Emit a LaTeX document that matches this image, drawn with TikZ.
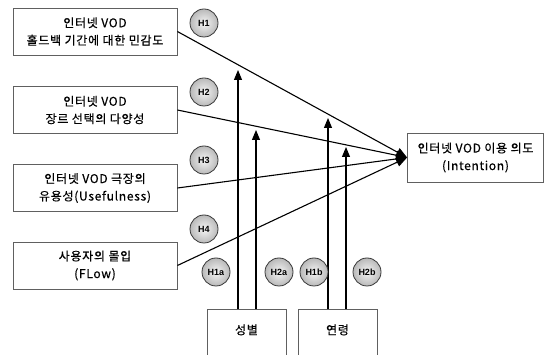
\documentclass[tikz,border=0pt]{standalone}
\usepackage{fontspec}
\setmainfont{Noto Sans CJK KR}[LetterSpace=6, FakeBold=0.5]
\newfontfamily\hfont{Liberation Sans}
\usetikzlibrary{arrows.meta,shadings}
\begin{document}
\begin{tikzpicture}[x=1pt,y=-1pt,
  srcbox/.style={draw=gray!75!black, line width=0.8pt, fill=white, minimum width=164pt, minimum height=47pt, align=center, font=\fontsize{12}{17.5}\selectfont, inner sep=2pt},
  hball/.style={circle, draw=gray!45!black, line width=0.8pt, shading=radial, inner color=gray!8, outer color=gray!55, minimum size=28pt, inner sep=0pt, font=\hfont\bfseries\fontsize{9}{9}\selectfont},
  link/.style={line width=1.1pt, -{Triangle[length=11pt,width=9pt]}},
  vlink/.style={line width=1.1pt, -{Triangle[length=10pt,width=8pt]}}
]
\useasboundingbox (0,0) rectangle (544,355);
\clip (0,0) rectangle (544,355);
\fill[white] (0,0) rectangle (544,355);

\node[srcbox] (b1) at (95,31.5) {인터넷 VOD\\홀드백 기간에 대한 민감도};
\node[srcbox] (b2) at (95,110) {인터넷 VOD\\장르 선택의 다양성};
\node[srcbox] (b3) at (95,188) {인터넷 VOD 극장의\\유용성(Usefulness)};
\node[srcbox] (b4) at (95,265.5) {사용자의 몰입\\(FLow)};

\node[srcbox, minimum width=136pt, minimum height=49pt] (t) at (475.5,157.5) {인터넷 VOD 이용 의도\\(Intention)};

\node[draw=gray!75!black, line width=0.8pt, fill=white, anchor=north, minimum width=79pt, text height=25pt, text depth=40pt, inner ysep=0pt, font=\fontsize{12}{12}\selectfont] (sex) at (246.5,309) {성별};
\node[draw=gray!75!black, line width=0.8pt, fill=white, anchor=north, minimum width=79pt, text height=25pt, text depth=40pt, inner ysep=0pt, font=\fontsize{12}{12}\selectfont] (age) at (337.5,309) {연령};

\coordinate (tA) at (238,70);
\coordinate (tB) at (256,130);
\coordinate (tC) at (328,118);
\coordinate (tD) at (346,147);

\draw[vlink] (tA |- sex.north) -- (tA);
\draw[vlink] (tB |- sex.north) -- (tB);
\draw[vlink] (tC |- age.north) -- (tC);
\draw[vlink] (tD |- age.north) -- (tD);

\draw[link] (b1.east) -- (t.west);
\draw[link] (b2.east) -- (t.west);
\draw[link] (b3.east) -- (t.west);
\draw[link] (b4.east) -- (t.west);

\node[hball] (h1) at (204,23) {H1};
\node[hball] (h2) at (204,92) {H2};
\node[hball] (h3) at (204,160) {H3};
\node[hball] (h4) at (204,229) {H4};
\node[hball] (h1a) at (216,272) {H1a};
\node[hball] (h2a) at (279,272) {H2a};
\node[hball] (h1b) at (314,272) {H1b};
\node[hball] (h2b) at (367,272) {H2b};
\end{tikzpicture}
\end{document}
